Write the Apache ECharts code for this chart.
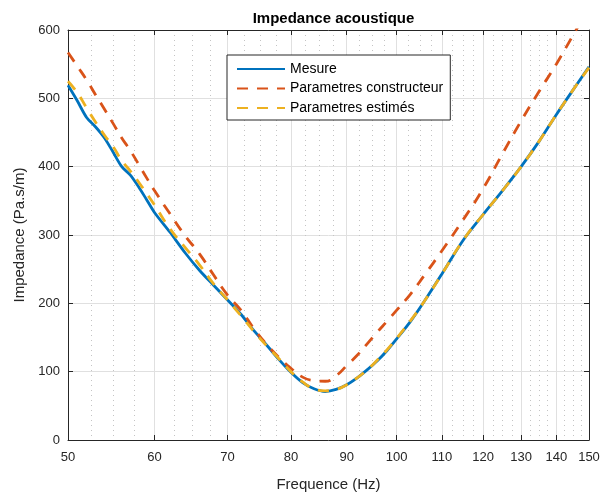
<!DOCTYPE html>
<html><head><meta charset="utf-8">
<script src="https://cdn.jsdelivr.net/npm/echarts@6/dist/echarts.min.js"></script>
<style>html,body{margin:0;padding:0;background:#fff}#c{width:604px;height:497px}</style>
</head><body><div id="c"></div>
<script>
const freq = [50,51,52,53,54,55,56,57,58,59,60,62,64,66,68,70,72,74,76,78,80,82,84,86,88,90,92,94,96,98,100,103,106,110,115,120,125,130,135,140,145,150];
const mesure = [519,496,472,458,442,421,400,388,371,352,333,304,274,248,226,205,184,160,139,118,99,84,75,71,74,81,91,103,116,131,148,174,203,243,292,330,365,400,437,476,512,546];
const constructeur = [567,547,527,505,484,463,442,424,404,384,365,331,299,272,241,212,190,163,140,121,105,92,87,86,94,109,124,141,158,174,190,214,241,277,322,368,419,467,510,550,592,633];
const estimes = [525,508,486,465,446,429,409,394,378,361,344,309,282,256,228,205,182,159,138,119,100,85,75,72,74,81,91,103,117,132,149,175,203,243,292,330,365,400,437,476,512,545];
const xTicks = [50,60,70,80,90,100,110,120,130,140,150];
const xMinorTicks = [52.5,55,57.5,62.5,65,67.5,72.5,75,77.5,82.5,85,87.5,92.5,95,97.5,102.5,105,107.5,112.5,115,117.5,122.5,125,127.5,132.5,135,137.5,142.5,145,147.5];
const yMin = 0, yMax = 600, yStep = 100;

const FONT = "'Liberation Sans', Arial, Helvetica, sans-serif";
const AX = '#262626';
const pairs = arr => freq.map((f, i) => [f, arr[i]]);

const chart = echarts.init(document.getElementById('c'), null, {renderer: 'canvas'});
chart.setOption({
  animation: false,
  backgroundColor: '#fff',
  textStyle: {fontFamily: FONT},
  title: {
    text: 'Impedance acoustique', left: 328.5, top: 6, textAlign: 'center',
    textStyle: {fontFamily: FONT, fontSize: 15, fontWeight: 'bold', color: '#000'}
  },
  grid: {left: 68, right: 15, top: 30, bottom: 57, show: false},
  legend: {
    orient: 'vertical', left: 227, top: 55,
    padding: [7, 7, 5, 9], itemGap: 5.5, itemWidth: 48, itemHeight: 12, itemTextGap: 5,
    backgroundColor: '#fff', borderColor: AX, borderWidth: 1, borderRadius: 0,
    itemStyle: {opacity: 0},
    textStyle: {fontFamily: FONT, fontSize: 14, color: '#000'},
    data: ['Mesure', 'Parametres constructeur', 'Parametres estimés']
  },
  xAxis: [
    {
      type: 'log', logBase: 10, min: 50, max: 150, position: 'bottom',
      name: 'Frequence (Hz)', nameLocation: 'middle', nameGap: 37,
      nameTextStyle: {fontFamily: FONT, fontSize: 15, color: AX},
      axisLine: {show: true, onZero: false, lineStyle: {color: AX, width: 1}},
      axisTick: {show: true, inside: true, length: 5, customValues: xTicks, lineStyle: {color: AX}},
      axisLabel: {show: true, customValues: xTicks, color: AX, fontSize: 13, fontFamily: FONT, margin: 11},
      splitLine: {show: true, lineStyle: {color: '#e0e0e0', width: 1}},
      minorTick: {show: false}, minorSplitLine: {show: false}
    },
    {
      type: 'log', logBase: 10, min: 50, max: 150, position: 'bottom',
      axisLine: {show: false},
      axisTick: {show: false, customValues: xMinorTicks},
      axisLabel: {show: false, customValues: xMinorTicks},
      splitLine: {show: true, lineStyle: {color: '#c4c4c4', width: 1, type: [1, 4]}}
    },
    {
      type: 'log', logBase: 10, min: 50, max: 150, position: 'top',
      axisLine: {show: true, onZero: false, lineStyle: {color: AX, width: 1}},
      axisTick: {show: true, inside: true, length: 5, customValues: xTicks, lineStyle: {color: AX}},
      axisLabel: {show: false, customValues: xTicks},
      splitLine: {show: false}
    }
  ],
  yAxis: [
    {
      type: 'value', min: yMin, max: yMax, interval: yStep, position: 'left',
      name: 'Impedance (Pa.s/m)', nameLocation: 'middle', nameGap: 31, nameRotate: 90,
      nameTextStyle: {fontFamily: FONT, fontSize: 15, color: AX},
      axisLine: {show: true, onZero: false, lineStyle: {color: AX, width: 1}},
      axisTick: {show: true, inside: true, length: 5, lineStyle: {color: AX}},
      axisLabel: {color: AX, fontSize: 13, fontFamily: FONT, margin: 8},
      splitLine: {show: true, lineStyle: {color: '#e0e0e0', width: 1}}
    },
    {
      type: 'value', min: yMin, max: yMax, interval: yStep, position: 'right',
      axisLine: {show: true, onZero: false, lineStyle: {color: AX, width: 1}},
      axisTick: {show: true, inside: true, length: 5, lineStyle: {color: AX}},
      axisLabel: {show: false}, splitLine: {show: false}
    }
  ],
  series: [
    {
      name: 'Mesure', type: 'line', xAxisIndex: 0, yAxisIndex: 0, data: pairs(mesure),
      symbol: 'none', smooth: 0.3, clip: true, z: 3,
      lineStyle: {color: '#0072BD', width: 2.8}, itemStyle: {color: '#0072BD'}
    },
    {
      name: 'Parametres constructeur', type: 'line', xAxisIndex: 0, yAxisIndex: 0, data: pairs(constructeur),
      symbol: 'none', smooth: true, clip: true, z: 4,
      lineStyle: {color: '#D95319', width: 2.8, type: [11, 9]}, itemStyle: {color: '#D95319'}
    },
    {
      name: 'Parametres estimés', type: 'line', xAxisIndex: 0, yAxisIndex: 0, data: pairs(estimes),
      symbol: 'none', smooth: true, clip: true, z: 5,
      lineStyle: {color: '#EDB120', width: 2.8, type: [11, 9]}, itemStyle: {color: '#EDB120'}
    }
  ]
});
</script>
</body></html>
